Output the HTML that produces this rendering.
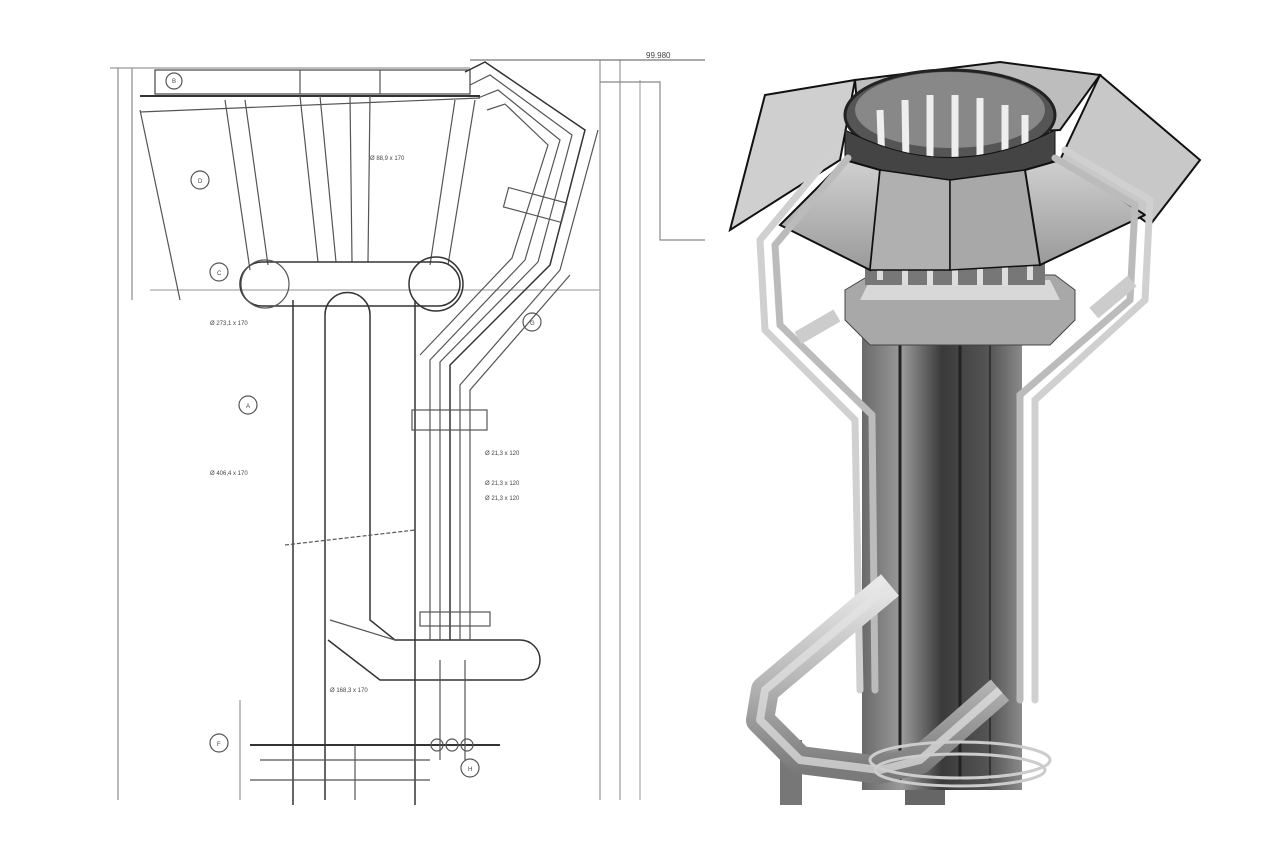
<!DOCTYPE html>
<html><head><meta charset="utf-8"><style>
html,body{margin:0;padding:0;background:#fff;}
svg{display:block;}
text{font-family:"Liberation Sans",sans-serif;}
</style></head><body>
<svg width="1280" height="854" viewBox="0 0 1280 854" xmlns="http://www.w3.org/2000/svg">
<defs>
<linearGradient id="col" x1="0" x2="1" y1="0" y2="0">
<stop offset="0" stop-color="#6a6a6a"/><stop offset="0.25" stop-color="#9a9a9a"/><stop offset="0.5" stop-color="#3a3a3a"/><stop offset="0.8" stop-color="#555"/><stop offset="1" stop-color="#8a8a8a"/></linearGradient>
<linearGradient id="pipe" x1="0" x2="0" y1="0" y2="1">
<stop offset="0" stop-color="#e8e8e8"/><stop offset="0.5" stop-color="#b8b8b8"/><stop offset="1" stop-color="#7a7a7a"/></linearGradient>
<linearGradient id="panel" x1="0" x2="0" y1="0" y2="1">
<stop offset="0" stop-color="#d0d0d0"/><stop offset="1" stop-color="#9a9a9a"/></linearGradient>
</defs>
<rect width="1280" height="854" fill="#fff"/>

<!-- LEFT DRAWING -->
<g fill="none" stroke="#555" stroke-width="1.2">
<!-- dimension lines -->
<line x1="118" y1="68" x2="118" y2="800" stroke="#888"/>
<line x1="132" y1="68" x2="132" y2="300" stroke="#888"/>
<line x1="110" y1="68" x2="470" y2="68" stroke="#999"/>
<line x1="600" y1="60" x2="600" y2="800" stroke="#999"/>
<line x1="620" y1="60" x2="620" y2="800" stroke="#999"/>
<line x1="640" y1="80" x2="640" y2="800" stroke="#aaa"/>
<line x1="470" y1="60" x2="705" y2="60" stroke="#777"/>
<polyline points="600,82 660,82 660,240 705,240" stroke="#888"/>
<line x1="150" y1="290" x2="600" y2="290" stroke="#aaa"/>
<!-- top plate -->
<rect x="155" y="70" width="315" height="24" stroke="#444"/>
<line x1="300" y1="70" x2="300" y2="94"/><line x1="380" y1="70" x2="380" y2="94"/>
<line x1="140" y1="96" x2="480" y2="96" stroke="#333" stroke-width="2"/>
<line x1="140" y1="112" x2="480" y2="98"/>
<!-- cone lines -->
<line x1="140" y1="110" x2="180" y2="300"/>
<line x1="225" y1="100" x2="250" y2="270"/><line x1="245" y1="100" x2="268" y2="265"/>
<line x1="300" y1="96" x2="318" y2="262"/><line x1="320" y1="96" x2="336" y2="262"/>
<line x1="350" y1="96" x2="352" y2="262"/><line x1="370" y1="96" x2="368" y2="262"/>
<line x1="455" y1="100" x2="430" y2="265"/><line x1="475" y1="100" x2="448" y2="265"/>
<!-- torus -->
<rect x="240" y="262" width="220" height="44" rx="22" stroke="#333" stroke-width="1.5"/>
<circle cx="265" cy="284" r="24"/><circle cx="436" cy="284" r="27" stroke="#333" stroke-width="1.5"/>
<!-- column -->
<line x1="293" y1="300" x2="293" y2="805" stroke="#333" stroke-width="1.5"/>
<line x1="415" y1="300" x2="415" y2="805" stroke="#333" stroke-width="1.5"/>
<path d="M325,800 V315 a22,22 0 0 1 45,0 V620 L395,640 H520 a20,20 0 0 1 0,40 H380 L328,640" stroke="#333" stroke-width="1.5"/>
<line x1="330" y1="620" x2="395" y2="640"/>
<line x1="285" y1="545" x2="415" y2="530" stroke-dasharray="4 2"/>
<!-- right pipe bundle -->
<path d="M465,72 L485,62 L585,130 L550,265 L450,365 V640" stroke="#333" stroke-width="1.5"/>
<path d="M470,85 L490,75 L572,135 L538,262 L440,362 V640"/>
<path d="M478,98 L498,90 L560,140 L525,260 L430,360 V640"/>
<path d="M487,110 L505,104 L548,145 L512,258 L420,355"/>
<path d="M460,640 V385 L560,270 L598,130"/>
<path d="M470,640 V390 L570,275"/>
<rect x="505" y="195" width="60" height="20" transform="rotate(15 535 205)"/>
<rect x="412" y="410" width="75" height="20"/>
<rect x="420" y="612" width="70" height="14"/>
<!-- bottom -->
<line x1="250" y1="745" x2="500" y2="745" stroke="#333" stroke-width="2"/>
<line x1="260" y1="760" x2="430" y2="760"/>
<line x1="250" y1="780" x2="430" y2="780"/>
<circle cx="437" cy="745" r="6"/><circle cx="452" cy="745" r="6"/><circle cx="467" cy="745" r="6"/>
<line x1="355" y1="745" x2="355" y2="800"/>
<line x1="240" y1="700" x2="240" y2="800" stroke="#999"/>
<line x1="440" y1="660" x2="440" y2="760"/><line x1="465" y1="660" x2="465" y2="760"/>
<!-- bubbles -->
<circle cx="174" cy="81" r="8"/><circle cx="200" cy="180" r="9"/><circle cx="219" cy="272" r="9"/>
<circle cx="248" cy="405" r="9"/><circle cx="532" cy="322" r="9"/><circle cx="219" cy="743" r="9"/><circle cx="470" cy="768" r="9"/>
</g>
<g font-size="6" fill="#444">
<text x="172" y="83">B</text><text x="198" y="183">D</text><text x="217" y="275">C</text>
<text x="246" y="408">A</text><text x="530" y="325">G</text><text x="217" y="746">F</text><text x="468" y="771">H</text>
<text x="646" y="58" font-size="8">99.980</text>
<text x="210" y="325">Ø 273,1 x 170</text><text x="210" y="475">Ø 406,4 x 170</text>
<text x="370" y="160">Ø 88,9 x 170</text><text x="485" y="455">Ø 21,3 x 120</text><text x="485" y="485">Ø 21,3 x 120</text>
<text x="485" y="500">Ø 21,3 x 120</text><text x="330" y="692">Ø 168,3 x 170</text>
</g>

<!-- RIGHT 3D -->
<!-- back umbrella panels -->
<polygon points="765,95 855,80 840,160 730,230" fill="#cfcfcf" stroke="#111" stroke-width="2"/>
<polygon points="855,80 1000,62 1100,75 1060,130 860,140" fill="#bdbdbd" stroke="#111" stroke-width="2"/>
<polygon points="1100,75 1200,160 1150,225 1060,160" fill="#c8c8c8" stroke="#111" stroke-width="2"/>
<!-- legs -->
<rect x="780" y="740" width="22" height="65" fill="#777"/>
<rect x="905" y="760" width="40" height="45" fill="#666"/>
<!-- column -->
<rect x="862" y="320" width="160" height="470" fill="url(#col)"/>
<line x1="900" y1="330" x2="900" y2="780" stroke="#222" stroke-width="3"/>
<line x1="960" y1="330" x2="960" y2="780" stroke="#222" stroke-width="3"/>
<line x1="990" y1="330" x2="990" y2="780" stroke="#333" stroke-width="2"/>
<!-- collar -->
<polygon points="845,290 870,275 1055,275 1075,290 1075,320 1050,345 870,345 845,320" fill="#a8a8a8" stroke="#444"/>
<polygon points="870,280 1050,280 1060,300 860,300" fill="#d8d8d8"/>
<!-- inner fins -->
<rect x="865" y="220" width="180" height="65" fill="#777"/>
<g stroke="#ddd" stroke-width="6">
<line x1="880" y1="230" x2="880" y2="280"/><line x1="905" y1="230" x2="905" y2="285"/><line x1="930" y1="230" x2="930" y2="285"/>
<line x1="955" y1="230" x2="955" y2="285"/><line x1="980" y1="230" x2="980" y2="285"/><line x1="1005" y1="230" x2="1005" y2="285"/><line x1="1030" y1="230" x2="1030" y2="280"/>
</g>
<!-- ring -->
<ellipse cx="950" cy="115" rx="105" ry="45" fill="#555" stroke="#222" stroke-width="3"/>
<ellipse cx="950" cy="110" rx="95" ry="38" fill="#888"/>
<g stroke="#eee" stroke-width="7">
<line x1="880" y1="110" x2="882" y2="165"/><line x1="905" y1="100" x2="906" y2="165"/><line x1="930" y1="95" x2="930" y2="165"/>
<line x1="955" y1="95" x2="955" y2="165"/><line x1="980" y1="98" x2="980" y2="165"/><line x1="1005" y1="105" x2="1005" y2="165"/><line x1="1025" y1="115" x2="1025" y2="165"/>
</g>
<path d="M845,130 Q950,185 1055,130 L1055,160 Q950,210 845,160 Z" fill="#444" stroke="#111"/>
<!-- front panels -->
<polygon points="780,225 845,160 880,170 870,270" fill="url(#panel)" stroke="#111" stroke-width="2"/>
<polygon points="880,170 950,180 950,270 870,270" fill="#b0b0b0" stroke="#111" stroke-width="1.5"/>
<polygon points="950,180 1025,170 1040,265 950,270" fill="#a8a8a8" stroke="#111" stroke-width="1.5"/>
<polygon points="1025,170 1060,160 1145,215 1040,265" fill="url(#panel)" stroke="#111" stroke-width="2"/>
<!-- side pipes -->
<g fill="none" stroke="#d0d0d0" stroke-width="7" stroke-linecap="round">
<path d="M835,150 L760,240 L765,330 L855,420 L860,690"/>
<path d="M848,158 L775,245 L780,325 L872,415 L875,690" stroke="#bbb"/>
<path d="M1065,150 L1150,200 L1145,300 L1035,400 L1035,700"/>
<path d="M1055,158 L1135,205 L1130,300 L1020,395 L1020,700" stroke="#bbb"/>
</g>
<rect x="1088" y="290" width="50" height="14" fill="#ccc" transform="rotate(-40 1113 297)"/>
<rect x="795" y="320" width="45" height="14" fill="#ccc" transform="rotate(-30 817 327)"/>
<!-- bottom pipe loop -->
<path d="M890,585 L860,610 L765,690 L760,720 L800,760 L880,770 L920,760 L1000,690" fill="none" stroke="url(#pipe)" stroke-width="28" stroke-linejoin="round"/>
<path d="M890,585 L860,610 L765,690 L760,720 L800,760 L880,770 L920,760 L1000,690" fill="none" stroke="#e4e4e4" stroke-width="8" stroke-linejoin="round" opacity="0.7"/>
<g fill="none" stroke="#ccc" stroke-width="3">
<ellipse cx="960" cy="760" rx="90" ry="18"/><ellipse cx="960" cy="770" rx="85" ry="16"/>
</g>
</svg>
</body></html>
